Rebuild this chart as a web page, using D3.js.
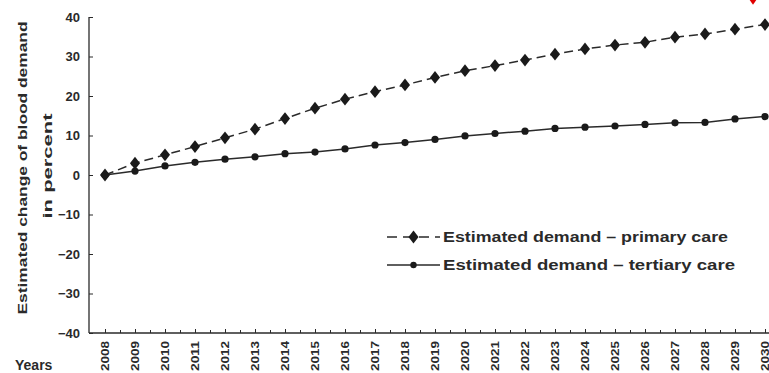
<!DOCTYPE html>
<html><head><meta charset="utf-8">
<script src="https://cdn.jsdelivr.net/npm/d3@7"></script>
<style>
html,body{margin:0;padding:0;background:#fff;}
svg{display:block;}
text{font-family:"Liberation Sans",Arial,sans-serif;font-weight:bold;fill:#2a2a2a;}
</style></head>
<body>
<svg id="chart" width="769" height="373"></svg>
<script>
const years = d3.range(2008, 2031);
const primaryCare = [0, 3.0, 5.1, 7.2, 9.4, 11.6, 14.3, 16.9, 19.2, 21.1, 22.8, 24.7, 26.4, 27.7, 29.1, 30.6, 31.9, 32.9, 33.6, 34.9, 35.7, 36.9, 38.1];
const tertiaryCare = [0, 1.0, 2.3, 3.2, 4.0, 4.6, 5.4, 5.8, 6.6, 7.6, 8.2, 9.0, 9.9, 10.5, 11.1, 11.8, 12.1, 12.4, 12.8, 13.2, 13.3, 14.2, 14.8];
const yTicks = [40, 30, 20, 10, 0, -10, -20, -30, -40];
const seriesNames = ["Estimated demand \u2013 primary care", "Estimated demand \u2013 tertiary care"];
const yTitle = ["Estimated change of blood demand", "in percent"];

const svg = d3.select("#chart");
const ink = "#2a2a2a";
const x = d3.scaleLinear().domain([2008, 2030]).range([105, 765]);
const xAxisStart = 89;
const y = d3.scaleLinear().domain([-40, 40]).range([333, 17]);

// y axis
const yAxis = d3.axisLeft(y).tickValues(yTicks).tickSize(-4).tickPadding(9)
  .tickFormat(d => d < 0 ? "\u2212" + Math.abs(d) : d);
const gy = svg.append("g").attr("transform", `translate(${xAxisStart},0)`).call(yAxis);
gy.select(".domain").attr("stroke", ink).attr("stroke-width", 1.3).attr("d", `M0,${y(40)}V${y(-40)}`);
gy.selectAll(".tick line").attr("stroke", ink);
gy.selectAll(".tick text").attr("font-size", 13).attr("font-family", "Liberation Sans, Arial, sans-serif").attr("font-weight", "bold").attr("fill", ink);

// x axis
const halfTicks = d3.range(2008, 2030.6, 0.5);
const xAxis = d3.axisBottom(x).tickValues(halfTicks).tickSize(-3).tickFormat("");
const gx = svg.append("g").attr("transform", `translate(0,${y(-40)})`).call(xAxis);
gx.select(".domain").attr("stroke", ink).attr("stroke-width", 1.3).attr("d", `M${xAxisStart},0H769`);
gx.selectAll(".tick line").attr("stroke", ink);
gx.selectAll(".tick").filter(d => Number.isInteger(d)).select("line").attr("y2", -4);

// x labels rotated
svg.append("g").selectAll("text").data(years).join("text")
  .attr("transform", d => `translate(${x(d) + 3.5},341) rotate(-90)`)
  .attr("text-anchor", "end")
  .attr("font-size", 11)
  .attr("textLength", 30).attr("lengthAdjust", "spacingAndGlyphs")
  .text(d => d);

svg.append("text").attr("x", 15).attr("y", 370).attr("font-size", 14).text("Years");

// y title
svg.append("text").attr("transform", "translate(27,168) rotate(-90)").attr("text-anchor", "middle")
  .attr("font-size", 13).attr("textLength", 293).attr("lengthAdjust", "spacingAndGlyphs").text(yTitle[0]);
svg.append("text").attr("transform", "translate(52,166) rotate(-90)").attr("text-anchor", "middle")
  .attr("font-size", 13).attr("textLength", 105).attr("lengthAdjust", "spacingAndGlyphs").text(yTitle[1]);

// lines
const line = d3.line().x((d, i) => x(years[i])).y(d => y(d));
svg.append("path").datum(tertiaryCare).attr("d", line).attr("fill", "none").attr("stroke", ink).attr("stroke-width", 1.5);
svg.append("path").datum(primaryCare).attr("d", line).attr("fill", "none").attr("stroke", ink).attr("stroke-width", 1.5).attr("stroke-dasharray", "9,5");

const diamond = d3.symbol().type(d3.symbolDiamond).size(52);
svg.append("g").selectAll("path").data(primaryCare).join("path")
  .attr("d", diamond).attr("transform", (d, i) => `translate(${x(years[i])},${y(d)}) scale(1.3,0.95)`).attr("fill", "#1a1a1a");
svg.append("g").selectAll("circle").data(tertiaryCare).join("circle")
  .attr("cx", (d, i) => x(years[i])).attr("cy", d => y(d)).attr("r", 3.6).attr("fill", "#1a1a1a");

// legend
const lg = svg.append("g");
const lx0 = 387, lx1 = 440;
const ly = [237, 265];
lg.append("line").attr("x1", lx0).attr("x2", lx1).attr("y1", ly[0]).attr("y2", ly[0]).attr("stroke", ink).attr("stroke-width", 1.5).attr("stroke-dasharray", "10,6");
lg.append("path").attr("d", diamond).attr("transform", `translate(${(lx0 + lx1) / 2},${ly[0]}) scale(1.3,0.95)`).attr("fill", "#1a1a1a");
lg.append("line").attr("x1", lx0).attr("x2", lx1).attr("y1", ly[1]).attr("y2", ly[1]).attr("stroke", ink).attr("stroke-width", 1.5);
lg.append("circle").attr("cx", (lx0 + lx1) / 2).attr("cy", ly[1]).attr("r", 3.2).attr("fill", "#1a1a1a");
lg.selectAll("text").data(seriesNames).join("text")
  .attr("x", 443).attr("y", (d, i) => ly[i] + 5)
  .attr("font-size", 14).attr("textLength", (d, i) => i === 0 ? 285 : 292).attr("lengthAdjust", "spacingAndGlyphs")
  .text(d => d);

// red marker fragment at top edge
svg.append("path").attr("d", d3.symbol().type(d3.symbolDiamond).size(70))
  .attr("transform", "translate(753,-3) scale(1.2,1)").attr("fill", "#e00000");
</script>
</body></html>
